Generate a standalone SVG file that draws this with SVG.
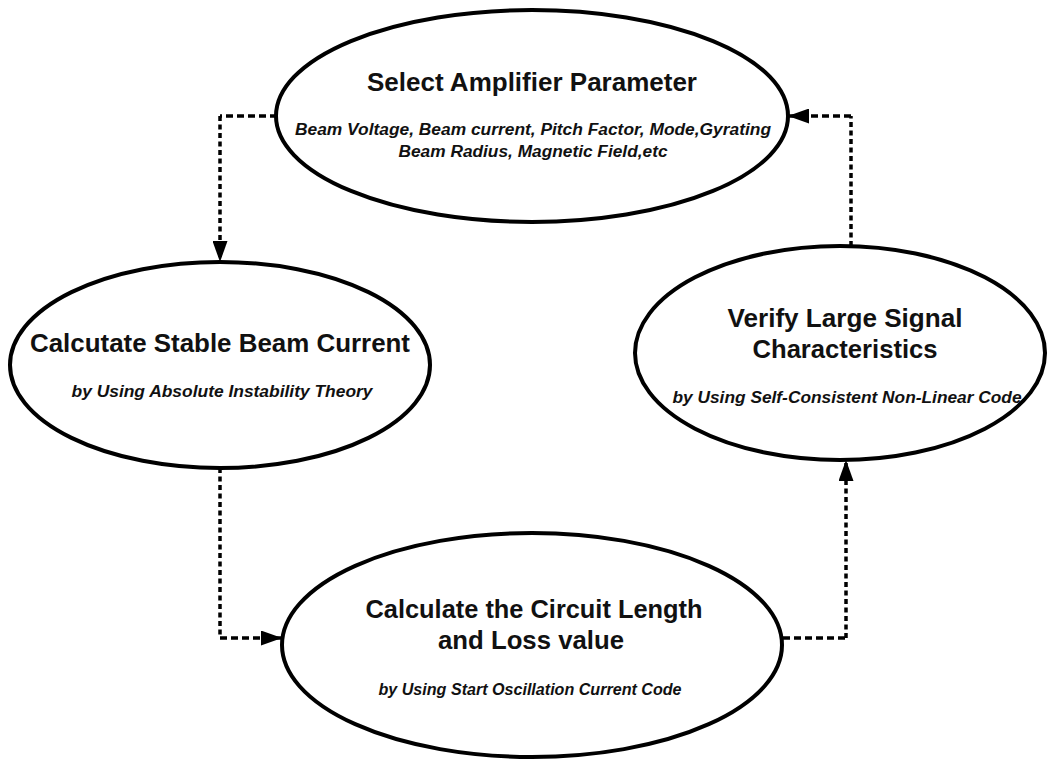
<svg xmlns="http://www.w3.org/2000/svg" width="1047" height="762" viewBox="0 0 1047 762">
  <style>
    .node { fill: #ffffff; stroke: #000000; stroke-width: 4; }
    .title { font-family: "Liberation Sans", Arial, sans-serif; font-weight: bold; font-size: 25px; fill: #111111; text-anchor: middle; }
    .sub { font-family: "Liberation Sans", Arial, sans-serif; font-weight: bold; font-style: italic; font-size: 16px; fill: #111111; text-anchor: middle; }
    .h { fill: none; stroke: #000000; stroke-width: 3.5; stroke-dasharray: 7 4; }
    .v { fill: none; stroke: #000000; stroke-width: 3.5; stroke-dasharray: 5 3.5; }
  </style>
  <defs>
    <marker id="arrow" viewBox="0 0 21 15" refX="21" refY="7.5" markerWidth="21" markerHeight="15" markerUnits="userSpaceOnUse" orient="auto">
      <path d="M0,0 L21,7.5 L0,15 Z" fill="#000000"/>
    </marker>
  </defs>
  <rect width="1047" height="762" fill="#ffffff"/>

  <!-- connectors -->
  <g id="connectors">
    <!-- select -> stable beam current -->
    <path class="h" d="M277,116 H220"/>
    <path class="v" d="M220,116 V262" marker-end="url(#arrow)"/>
    <!-- stable beam current -> circuit length -->
    <path class="v" d="M220,468 V638"/>
    <path class="h" d="M220,638 H282" marker-end="url(#arrow)"/>
    <!-- circuit length -> large signal -->
    <path class="h" d="M783,638 H846"/>
    <path class="v" d="M846,638 V460" marker-end="url(#arrow)"/>
    <!-- large signal -> select -->
    <path class="v" d="M851,246 V116"/>
    <path class="h" d="M851,116 H788" marker-end="url(#arrow)"/>
  </g>

  <g id="select-parameter">
    <ellipse class="node" cx="532" cy="116" rx="256" ry="106"/>
    <text class="title" x="532" y="91" textLength="330" lengthAdjust="spacingAndGlyphs">Select Amplifier Parameter</text>
    <text class="sub" x="533" y="135" textLength="476" lengthAdjust="spacingAndGlyphs">Beam Voltage, Beam current, Pitch Factor, Mode,Gyrating</text>
    <text class="sub" x="533" y="157" textLength="269" lengthAdjust="spacingAndGlyphs">Beam Radius, Magnetic Field,etc</text>
  </g>

  <g id="stable-beam-current">
    <ellipse class="node" cx="220" cy="365" rx="210" ry="103"/>
    <text class="title" x="220" y="352" textLength="380" lengthAdjust="spacingAndGlyphs">Calcutate Stable Beam Current</text>
    <text class="sub" x="222" y="397" textLength="301" lengthAdjust="spacingAndGlyphs">by Using Absolute Instability Theory</text>
  </g>

  <g id="large-signal">
    <ellipse class="node" cx="840" cy="353" rx="205" ry="107"/>
    <text class="title" x="845" y="327" textLength="235" lengthAdjust="spacingAndGlyphs">Verify Large Signal</text>
    <text class="title" x="845" y="358" textLength="185" lengthAdjust="spacingAndGlyphs">Characteristics</text>
    <text class="sub" x="847" y="403" textLength="349" lengthAdjust="spacingAndGlyphs">by Using Self-Consistent Non-Linear Code</text>
  </g>

  <g id="circuit-length">
    <ellipse class="node" cx="532" cy="645" rx="250" ry="112"/>
    <text class="title" x="534" y="618" textLength="337" lengthAdjust="spacingAndGlyphs">Calculate the Circuit Length</text>
    <text class="title" x="531" y="649" textLength="186" lengthAdjust="spacingAndGlyphs">and Loss value</text>
    <text class="sub" x="530" y="695" textLength="303" lengthAdjust="spacingAndGlyphs">by Using Start Oscillation Current Code</text>
  </g>
</svg>
